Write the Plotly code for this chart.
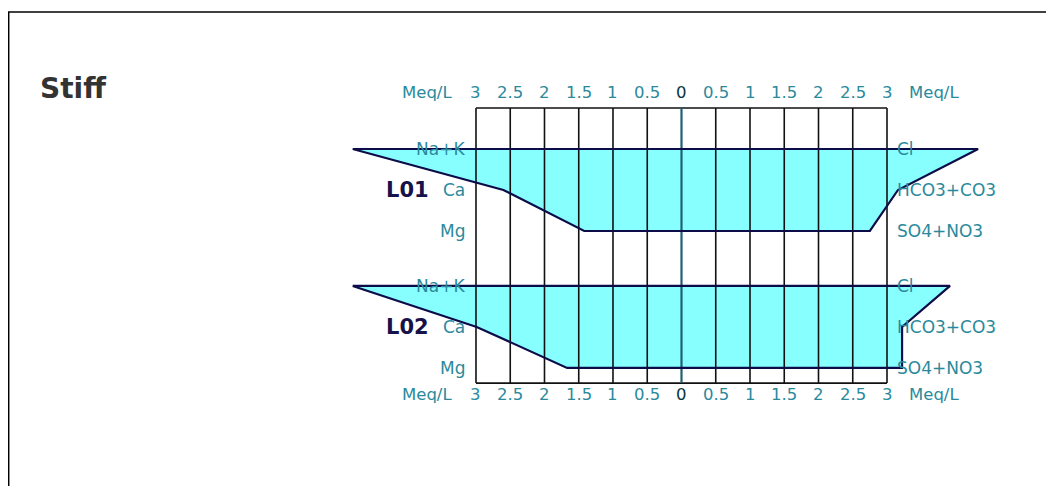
import plotly.graph_objects as go

# ---- data ----
samples = ["L01", "L02"]
cation_names = ["Na+K", "Ca", "Mg"]
anion_names = ["Cl", "HCO3+CO3", "SO4+NO3"]
L01_cations = [4.80, 2.60, 1.42]
L01_anions = [4.33, 3.16, 2.75]
L02_cations = [4.80, 2.99, 1.67]
L02_anions = [3.92, 3.22, 3.22]
tick_values = [-3, -2.5, -2, -1.5, -1, -0.5, 0, 0.5, 1, 1.5, 2, 2.5, 3]
tick_labels = ["3", "2.5", "2", "1.5", "1", "0.5", "0", "0.5", "1", "1.5", "2", "2.5", "3"]
unit_label = "Meq/L"

cation_sets = [L01_cations, L02_cations]
anion_sets = [L01_anions, L02_anions]

# ---- layout helpers (row positions in y units) ----
row_start = [0.0, 3.34]
grid_top = -1.0
grid_bottom = 5.71
label_top = -1.37
label_bottom = 6.0

W, H = 1046, 478

FILL = "#88ffff"
OUTLINE = "#0c0c48"
TEAL = "#2a8a9c"
FONT = "DejaVu Sans"

fig = go.Figure()

# filled polygons
for i, s in enumerate(samples):
    c = cation_sets[i]
    a = anion_sets[i]
    ys = [row_start[i] + k for k in range(3)]
    px = [-c[0], -c[1], -c[2], a[2], a[1], a[0], -c[0]]
    py = [ys[0], ys[1], ys[2], ys[2], ys[1], ys[0], ys[0]]
    fig.add_trace(go.Scatter(x=px, y=py, mode="lines", fill="toself",
                             fillcolor=FILL, line=dict(width=0, color=FILL),
                             hoverinfo="skip"))

# grid
gx, gy = [], []
for t in tick_values:
    if t == 0:
        continue
    gx += [t, t, None]
    gy += [grid_top, grid_bottom, None]
gx += [tick_values[0], tick_values[-1], None, tick_values[0], tick_values[-1], None]
gy += [grid_top, grid_top, None, grid_bottom, grid_bottom, None]
fig.add_trace(go.Scatter(x=gx, y=gy, mode="lines",
                         line=dict(color="#111111", width=1.6), hoverinfo="skip"))
fig.add_trace(go.Scatter(x=[0, 0], y=[grid_top, grid_bottom], mode="lines",
                         line=dict(color="#1d6272", width=2.2), hoverinfo="skip"))

# outlines
for i, s in enumerate(samples):
    c = cation_sets[i]
    a = anion_sets[i]
    ys = [row_start[i] + k for k in range(3)]
    px = [-c[0], -c[1], -c[2], a[2], a[1], a[0], -c[0]]
    py = [ys[0], ys[1], ys[2], ys[2], ys[1], ys[0], ys[0]]
    fig.add_trace(go.Scatter(x=px, y=py, mode="lines",
                             line=dict(color=OUTLINE, width=2.2), hoverinfo="skip"))

annotations = []
# tick labels top & bottom
for yl in (label_top, label_bottom):
    for t, lab in zip(tick_values, tick_labels):
        annotations.append(dict(x=t, y=yl, text=lab, showarrow=False,
                                xanchor="center", yanchor="middle",
                                font=dict(family=FONT, size=16.5,
                                          color="#0b3440" if t == 0 else TEAL)))
    annotations.append(dict(x=tick_values[0], y=yl, text=unit_label, showarrow=False,
                            xanchor="right", yanchor="middle", xshift=-22,
                            font=dict(family=FONT, size=16.5, color=TEAL)))
    annotations.append(dict(x=tick_values[-1], y=yl, text=unit_label, showarrow=False,
                            xanchor="left", yanchor="middle", xshift=20,
                            font=dict(family=FONT, size=16.5, color=TEAL)))

# ion labels and sample names
for i, s in enumerate(samples):
    for k in range(3):
        yv = row_start[i] + k
        annotations.append(dict(x=tick_values[0], y=yv, text=cation_names[k],
                                showarrow=False, xanchor="right", yanchor="middle",
                                xshift=-9, font=dict(family=FONT, size=17, color=TEAL)))
        annotations.append(dict(x=tick_values[-1], y=yv, text=anion_names[k],
                                showarrow=False, xanchor="left", yanchor="middle",
                                xshift=8, font=dict(family=FONT, size=17, color=TEAL)))
    annotations.append(dict(x=tick_values[0], y=row_start[i] + 1, text="<b>" + s + "</b>",
                            showarrow=False, xanchor="right", yanchor="middle",
                            xshift=-45, font=dict(family=FONT, size=21, color="#16124a")))

# title
annotations.append(dict(x=30 / W, y=1 - 80 / H, xref="paper", yref="paper",
                        text="<b>Stiff</b>", showarrow=False, xanchor="left",
                        yanchor="middle", font=dict(family=FONT, size=28, color="#333333")))

fig.update_layout(
    width=W, height=H,
    margin=dict(l=0, r=0, t=0, b=0),
    paper_bgcolor="white", plot_bgcolor="white",
    showlegend=False,
    xaxis=dict(range=[-9.832, 5.438], visible=False, fixedrange=True),
    yaxis=dict(range=[8.22, -3.439], visible=False, fixedrange=True),
    annotations=annotations,
    shapes=[
        dict(type="line", xref="paper", yref="paper", x0=0, x1=1,
             y0=1 - 4 / H, y1=1 - 4 / H, line=dict(color="black", width=1.5)),
        dict(type="line", xref="paper", yref="paper", x0=0.7 / W, x1=0.7 / W,
             y0=1 - 4 / H, y1=0, line=dict(color="black", width=1.5)),
    ],
)

fig.write_html("out.html")
